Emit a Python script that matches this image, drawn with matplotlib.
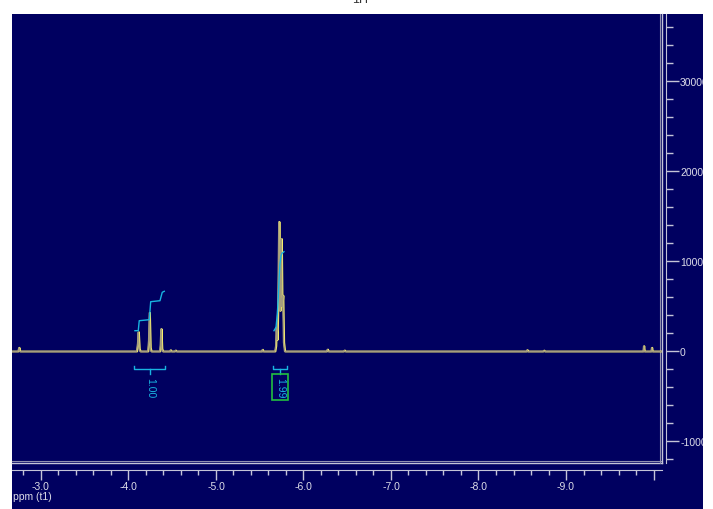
import matplotlib
matplotlib.use('Agg')
import matplotlib.pyplot as plt
import matplotlib.transforms as mtransforms
from matplotlib.patches import Rectangle
from matplotlib.ticker import MultipleLocator

# spectrum trace (ppm, intensity)
spec_ppm = [-2.669, -2.745, -2.755, -2.765,
            -4.100, -4.112, -4.120, -4.130, -4.140,
            -4.228, -4.238, -4.246, -4.256, -4.266,
            -4.365, -4.372, -4.379, -4.388, -4.398,
            -4.480, -4.486, -4.495, -4.535, -4.543, -4.552,
            -5.530, -5.537, -5.545,
            -5.680, -5.690, -5.697, -5.706, -5.716, -5.726, -5.738, -5.746,
            -5.754, -5.762, -5.771, -5.780, -5.792,
            -6.270, -6.280, -6.290, -6.465, -6.474, -6.483,
            -8.555, -8.562, -8.570, -8.745, -8.754, -8.762,
            -9.888, -9.895, -9.902, -9.979, -9.986, -9.993, -10.097]
spec_int = [0, 0, 420, 0,
            0, 900, 2150, 300, 0,
            0, 1200, 4300, 400, 0,
            0, 800, 2500, 300, 0,
            0, 150, 0, 0, 120, 0,
            0, 200, 0,
            0, 600, 2700, 1300, 6000, 14400, 4500, 9000,
            12500, 5000, 6200, 1000, 0,
            0, 220, 0, 0, 120, 0,
            0, 160, 0, 0, 110, 0,
            0, 600, 0, 0, 420, 0, 0]

# integral curves
int1_ppm = [-4.074, -4.112, -4.123, -4.238, -4.254, -4.360, -4.386, -4.409]
int1_val = [2311, 2311, 3422, 3533, 5533, 5644, 6578, 6689]
int2_ppm = [-5.663, -5.686, -5.701, -5.712, -5.720, -5.731, -5.743, -5.754, -5.769, -5.777]
int2_val = [2311, 2689, 4167, 6022, 7867, 9722, 10644, 10911, 11022, 11089]

# integral regions (start, end) and values
int_regions = [(-4.066, -4.421), (-5.655, -5.808)]
int_labels = ['1.00', '1.99']

x_ticks = [-3, -4, -5, -6, -7, -8, -9, -10]
x_labels = ['-3.0', '-4.0', '-5.0', '-6.0', '-7.0', '-8.0', '-9.0', '']
y_ticks = [-10000, 0, 10000, 20000, 30000]
y_labels = ['-10000', '0', '10000', '20000', '30000']

navy = '#000060'
axis_col = '#c4c4d8'
text_col = '#dcdce8'
cyan = '#18b4e0'

plt.rcParams['font.family'] = ['Liberation Sans', 'DejaVu Sans']
narrow = ['Liberation Sans Narrow', 'Liberation Sans', 'DejaVu Sans']

W, H = 713, 510
fig = plt.figure(figsize=(W / 100, H / 100), dpi=100, facecolor='white')

# navy panel behind everything
fig.patches.append(Rectangle((12 / W, 0), (703 - 12) / W, (H - 15) / H,
                             transform=fig.transFigure, facecolor=navy,
                             edgecolor='none', zorder=-5))
# white strip on the right clips the y labels like in the screenshot
fig.patches.append(Rectangle((703 / W, 0), 10 / W, 1, transform=fig.transFigure,
                             facecolor='white', edgecolor='none', zorder=10))
fig.text(0.505, 1.0, '1H', fontsize=9, ha='center', va='center', color='#333333')

left, right, top, bottom = 12, 662, 15, 464
ax = fig.add_axes([left / W, (H - bottom) / H, (right - left) / W, (bottom - top) / H])
ax.set_facecolor(navy)

ax.plot(spec_ppm, spec_int, color='#f6ee6c', lw=1.3, zorder=3)
shift = mtransforms.offset_copy(ax.transData, fig=fig, x=-0.7, y=0, units='dots')
ax.plot(spec_ppm, spec_int, color='#a69e7e', lw=1.0, zorder=4, transform=shift)

# integrals
ax.plot(int1_ppm, int1_val, color=cyan, lw=1.0, zorder=5)
ax.plot(int2_ppm, int2_val, color=cyan, lw=1.0, zorder=5)
for i, (a, b) in enumerate(int_regions):
    c = (a + b) / 2
    ax.plot([a, a, b, b], [-1578, -1944, -1944, -1578], color=cyan, lw=1.0)
    ax.plot([c, c], [-1944, -2500], color=cyan, lw=1.0)
    if i == 1:
        ax.text(c, -3950, int_labels[i], rotation=-90, ha='center', va='center',
                fontsize=7.5, color=cyan, family=narrow,
                bbox=dict(boxstyle='square,pad=0.3', fc='none', ec='#22c040', lw=1.2))
    else:
        ax.text(c, -3950, int_labels[i], rotation=-90, ha='center', va='center',
                fontsize=7.5, color=cyan, family=narrow)

ax.set_xlim(-2.669, -10.097)
ax.set_ylim(-12389, 37500)

for s in ['top', 'left']:
    ax.spines[s].set_visible(False)
ax.spines['bottom'].set_position(('outward', 5))
ax.spines['right'].set_position(('outward', 3))
ax.spines['bottom'].set_color(axis_col)
ax.spines['right'].set_color(axis_col)

# double border of the plot area
ax.plot([0, 1], [0, 0], transform=ax.transAxes, color=axis_col, lw=1, clip_on=False)
up = mtransforms.offset_copy(ax.transAxes, fig=fig, x=0, y=2, units='dots')
ax.plot([0, 1], [0, 0], transform=up, color='#9090b0', lw=0.8, clip_on=False)
ax.plot([1, 1], [0, 1], transform=ax.transAxes, color=axis_col, lw=1, clip_on=False)
inner = mtransforms.offset_copy(ax.transAxes, fig=fig, x=-2.5, y=0, units='dots')
ax.plot([1, 1], [0, 1], transform=inner, color='#9090b0', lw=0.8, clip_on=False)

ax.set_xticks(x_ticks)
ax.set_xticklabels(x_labels, family=narrow)
ax.xaxis.set_minor_locator(MultipleLocator(0.2))
ax.yaxis.tick_right()
ax.set_yticks(y_ticks)
ax.set_yticklabels(y_labels)
ax.yaxis.set_minor_locator(MultipleLocator(2000))
ax.tick_params(axis='x', which='major', length=7, width=1, color=axis_col,
               labelcolor=text_col, labelsize=7.5, pad=1)
ax.tick_params(axis='x', which='minor', length=3.5, width=1, color=axis_col)
ax.tick_params(axis='y', which='major', length=9, width=1, color=axis_col,
               labelcolor=text_col, labelsize=7.5, pad=1)
ax.tick_params(axis='y', which='minor', length=5, width=1, color=axis_col)
for t in ax.get_yticklabels():
    t.set_horizontalalignment('left')

fig.text(13 / W, 1 - 497 / H, 'ppm (t1)', fontsize=7.5, color=text_col,
         ha='left', va='center', family=narrow)

fig.savefig('out.png', dpi=100, facecolor='white')
